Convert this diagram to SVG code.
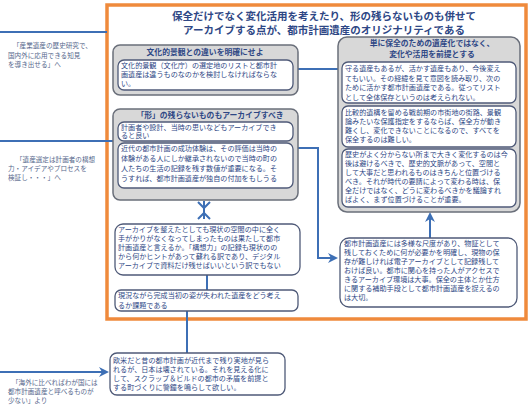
<svg xmlns="http://www.w3.org/2000/svg" width="531" height="416" viewBox="0 0 531 416">
<defs>
<style>
text{font-family:"Noto Sans CJK JP","Noto Sans",sans-serif;fill:#2e4785}
.b{font-size:7.1px}
.t{font-size:7.8px;font-weight:bold;text-anchor:middle}
.h{font-size:10.5px;font-weight:bold;text-anchor:middle}
.s{font-size:6.6px;fill:#56678c}
.grp{fill:#d8d8d8;stroke:#6a6f7a;stroke-width:1.5}
.box{fill:#fff;stroke:#4f5a78;stroke-width:1.3}
.ln{fill:none;stroke:#3d6fb5;stroke-width:2}
</style>
<marker id="ah" viewBox="0 0 10 10" refX="8" refY="5" markerWidth="5" markerHeight="5" orient="auto-start-reverse">
<path d="M0,0 L10,5 L0,10 L3,5 Z" fill="#3d6fb5"/>
</marker>
</defs>
<rect width="531" height="416" fill="#fff"/>

<g id="frame">
<rect x="107" y="5" width="419" height="314" fill="#fff" stroke="#ef8a3c" stroke-width="3.5"/>
<text class="h" x="324" y="20">保全だけでなく変化活用を考えたり、形の残らないものも併せて</text>
<text class="h" x="324" y="34">アーカイブする点が、都市計画遺産のオリジナリティである</text>
</g>

<g id="connectors">
<path class="ln" d="M0,32 H107"/>
<path class="ln" d="M0,141 H113"/>
<path class="ln" d="M0,372 H107" marker-end="url(#ah)"/>
<path class="ln" d="M298,69 H338"/>
<path class="ln" d="M298,148 H318 V258 H336" marker-end="url(#ah)"/>
<path class="ln" d="M430,238 V214" marker-end="url(#ah)"/>
<path class="ln" d="M204,201 V219"/>
<path class="ln" d="M198,202 L204,208 L210,202 M198,219 L204,213 L210,219" stroke-width="1.6"/>
<path class="ln" d="M207,275 V290"/>
<path class="ln" d="M187,310 V353"/>
</g>

<g id="note-top-left">
<text class="s" x="13" y="48">「産業遺産の歴史研究で、</text>
<text class="s" x="8" y="57.5">国内外に応用できる知見</text>
<text class="s" x="8" y="67">を導き出せる」へ</text>
</g>

<g id="note-mid-left">
<text class="s" x="16" y="162">「遺産選定は計画者の構想</text>
<text class="s" x="8" y="171">力・アイデアやプロセスを</text>
<text class="s" x="8" y="180">検証し・・・」へ</text>
</g>

<g id="note-bottom-left">
<text class="s" x="12" y="385">「海外に比べればわが国には</text>
<text class="s" x="8" y="394">都市計画遺産と呼べるものが</text>
<text class="s" x="8" y="403">少ない」より</text>
</g>

<g id="group-bunka">
<rect class="grp" x="113" y="45" width="185" height="50" rx="7"/>
<text class="t" x="205" y="55">文化的景観との違いを明確にせよ</text>
<rect class="box" x="118" y="60" width="175" height="30" rx="6"/>
<text class="b" x="121" y="68">文化的景観（文化庁）の選定地のリストと都市計</text>
<text class="b" x="121" y="77">画遺産は違うものなのかを検討しなければならな</text>
<text class="b" x="121" y="86">い。</text>
</g>

<g id="group-katachi">
<rect class="grp" x="113" y="109" width="185" height="91" rx="7"/>
<text class="t" x="210" y="118">「形」の残らないものもアーカイブすべき</text>
<rect class="box" x="118" y="122" width="175" height="19" rx="6"/>
<text class="b" x="121" y="129.5">計画者や設計、当時の思いなどもアーカイブでき</text>
<text class="b" x="121" y="138">ると良い</text>
<rect class="box" x="118" y="143" width="175" height="45" rx="6"/>
<text class="b" x="121" y="151">近代の都市計画の成功体験は、その評価は当時の</text>
<text class="b" x="121" y="161">体験がある人にしか継承されないので当時の町の</text>
<text class="b" x="121" y="171">人たちの生活の記録を残す数値が重要になる。そ</text>
<text class="b" x="121" y="181">うすれば、都市計画遺産が独自の付加をもしうる</text>
</g>

<g id="box-archive">
<rect class="box" x="115" y="224" width="185" height="51" rx="8"/>
<text class="b" x="118" y="232">アーカイブを整えたとしても現状の空間の中に全く</text>
<text class="b" x="118" y="241">手がかりがなくなってしまったものは果たして都市</text>
<text class="b" x="118" y="250">計画遺産と言えるか。「構想力」の記録も現状のの</text>
<text class="b" x="118" y="259">から何かヒントがあって蘇れる訳であり、デジタル</text>
<text class="b" x="118" y="268">アーカイブで資料だけ残せばいいという訳でもない</text>
</g>

<g id="box-genkyo">
<rect class="box" x="115" y="290" width="183" height="21" rx="6"/>
<text class="b" x="118" y="298">現況ながら完成当初の姿が失われた遺産をどう考え</text>
<text class="b" x="118" y="307.5">るか課題である</text>
</g>

<g id="group-henka">
<rect class="grp" x="338" y="37" width="182" height="175" rx="9"/>
<text class="t" x="432" y="45.5">単に保全のための遺産化ではなく、</text>
<text class="t" x="432" y="56.5">変化や活用を前提とする</text>
<rect class="box" x="342" y="62" width="174" height="41" rx="6"/>
<text class="b" x="345" y="71">守る遺産もあるが、活かす遺産もあり、今後変え</text>
<text class="b" x="345" y="80.5">てもいい。その経緯を見て意図を読み取り、次の</text>
<text class="b" x="345" y="90">ために活かす都市計画遺産である。従ってリスト</text>
<text class="b" x="345" y="99.5">として全体保存というのは考えられない。</text>
<rect class="box" x="342" y="106" width="174" height="41" rx="6"/>
<text class="b" x="345" y="115">比較的遺構を留める戦前期の市街地の街路、景観</text>
<text class="b" x="345" y="124">論みたいな保護指定をするならば、保全方が動き</text>
<text class="b" x="345" y="133">難くし、変化できないことになるので、すべてを</text>
<text class="b" x="345" y="142">保全するのは難しい。</text>
<rect class="box" x="342" y="149" width="174" height="58" rx="6"/>
<text class="b" x="345" y="157">歴史がよく分からない所まで大きく変化するのは今</text>
<text class="b" x="345" y="166">後は避けるべきで、歴史的文脈があって、空間と</text>
<text class="b" x="345" y="175">して大事だと思われるものはきちんと位置づける</text>
<text class="b" x="345" y="184">べき。それが時代の要請によって変わる時は、保</text>
<text class="b" x="345" y="193">全だけではなく、どうに変わるべきかを議論すれ</text>
<text class="b" x="345" y="202">ばよく、まず位置づけることが重要。</text>
</g>

<g id="box-tayou">
<rect class="box" x="340" y="238" width="177" height="69" rx="9"/>
<text class="b" x="344" y="246">都市計画遺産には多様な尺度があり、物証として</text>
<text class="b" x="344" y="255">残しておくために何が必要かを明確し、現物の保</text>
<text class="b" x="344" y="264">存が難しければ電子アーカイブとして記録残して</text>
<text class="b" x="344" y="273">おけば良い。都市に関心を持った人がアクセスで</text>
<text class="b" x="344" y="282">きるアーカイブ環境は大事。保全の主体とか仕方</text>
<text class="b" x="344" y="291">に関する補助手段として都市計画遺産を捉えるの</text>
<text class="b" x="344" y="300">は大切。</text>
</g>

<g id="box-oubei">
<rect class="box" x="110" y="353" width="175" height="42" rx="7"/>
<text class="b" x="113" y="362.5">欧米だと昔の都市計画が近代まで残り実地が見ら</text>
<text class="b" x="113" y="371.5">れるが、日本は壊されている。それを見える化に</text>
<text class="b" x="113" y="380.5">して、スクラップ＆ビルドの都市の矛盾を前提と</text>
<text class="b" x="113" y="389.5">する町づくりに警鐘を鳴らして欲しい。</text>
</g>
</svg>
